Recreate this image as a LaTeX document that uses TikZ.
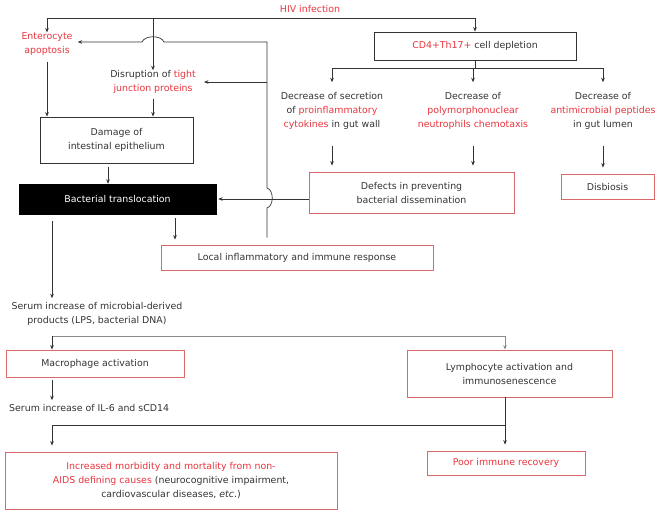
\documentclass[tikz,border=0pt]{standalone}
\usepackage{fontspec}
\setmainfont{DejaVu Sans}
\usetikzlibrary{arrows.meta,positioning,calc}
\definecolor{hivred}{HTML}{E8353E}
\definecolor{boxred}{HTML}{D96868}
\definecolor{linegray}{HTML}{333333}
\definecolor{bargray}{HTML}{8C8C8C}
\newcommand{\hl}[1]{\textcolor{hivred}{#1}}
\tikzset{
  >={Stealth[length=4.5pt,width=3.6pt]},
  font=\fontsize{9.4}{14}\selectfont,
  txt/.style={inner sep=0pt,align=center,text=linegray},
  box/.style={draw=boxred,line width=0.8pt,inner sep=0pt,align=center,text=linegray},
  plainbox/.style={draw=linegray,line width=0.8pt,inner sep=0pt,align=center,text=linegray},
  blackbox/.style={fill=black,draw=black,inner sep=0pt,align=center,text=white},
  flow/.style={->,line width=0.7pt,draw=linegray},
  link/.style={line width=0.7pt,draw=linegray},
}

\begin{document}
\begin{tikzpicture}[x=1pt,y=-1pt]
  \useasboundingbox (0,0) rectangle (661,514);

  % ===== top: HIV and gut barrier =====
  \node[txt] (hiv) at (310,9) {\hl{HIV infection}};
  \node[txt] (entero) at (47,44) {\hl{Enterocyte}\\\hl{apoptosis}};
  \node[txt] (tight) at (153,82) {Disruption of \hl{tight}\\\hl{junction proteins}};
  \node[plainbox,minimum width=153pt,minimum height=46pt] (damage) at (116.5,140)
    {Damage of\\intestinal epithelium};
  \node[blackbox,minimum width=197pt,minimum height=30pt] (bact) at (117.5,199)
    {Bacterial translocation};
  \node[plainbox,minimum width=202pt,minimum height=28pt] (cd4) at (475,46)
    {\hl{CD4+Th17+} cell depletion};
  \node[txt] (dsec) at (332,111) {Decrease of secretion\\of \hl{proinflammatory}\\\hl{cytokines} in gut wall};
  \node[txt] (dpmn) at (473,111) {Decrease of\\\hl{polymorphonuclear}\\\hl{neutrophils chemotaxis}};
  \node[txt] (damp) at (603,111) {Decrease of\\\hl{antimicrobial peptides}\\in gut lumen};
  \node[box,minimum width=205pt,minimum height=41pt] (defects) at (411.5,192.5)
    {Defects in preventing\\bacterial dissemination};
  \node[box,minimum width=93pt,minimum height=25pt] (disb) at (607.5,186.5) {Disbiosis};
  \node[box,minimum width=272pt,minimum height=25pt] (local) at (297,257.5)
    {Local inflammatory and immune response};

  % ===== bottom: systemic effects =====
  \node[txt] (serum) at (97,314) {Serum increase of microbial-derived\\products (LPS, bacterial DNA)};
  \node[box,minimum width=178pt,minimum height=27pt] (macro) at (95,363.5) {Macrophage activation};
  \node[box,minimum width=205pt,minimum height=47pt] (lympho) at (509.5,373.5)
    {Lymphocyte activation and\\immunosenescence};
  \node[txt,anchor=west] (il6) at (9,408) {Serum increase of IL-6 and sCD14};
  \node[box,minimum width=332pt,minimum height=57pt] (morb) at (171,480.5)
    {\hl{Increased morbidity and mortality from non-}\\\hl{AIDS defining causes} (neurocognitive impairment,\\cardiovascular diseases, \textit{etc}.)};
  \node[box,minimum width=158pt,minimum height=24pt] (poor) at (506,463) {\hl{Poor immune recovery}};

  % bus lines and columns
  \coordinate (hivbar) at (310,18);
  \coordinate (ebar) at (0,42);
  \coordinate (fb) at (267,0);
  \coordinate (lx) at (52,0);
  \coordinate (rx) at (505,0);
  \coordinate (mx) at (108,0);
  \coordinate (bx) at (175,0);
  \coordinate (cdbar) at (475,68);
  \coordinate (sbar) at (52,336);
  \coordinate (obar) at (505,425);

  % HIV fan-out
  \draw[link] (hivbar -| entero.north) -- (hivbar -| cd4.north);
  \foreach \n in {entero,tight,cd4}{
    \draw[flow] (hivbar -| \n.north) -- (\n.north);
  }
  \draw[flow] ([yshift=-6pt]entero.south) -- (entero.south |- damage.north);
  \draw[flow] ([yshift=-5pt]tight.south) -- (tight.south |- damage.north);
  \draw[flow,shorten <=4pt] (damage.south -| mx) -- (bact.north -| mx);

  % CD4 depletion fan-out
  \draw[link] (cd4.south) -- (cdbar);
  \draw[link] (cdbar -| dsec.north) -- (cdbar -| damp.north);
  \foreach \n in {dsec,dpmn,damp}{
    \draw[flow] (cdbar -| \n.north) -- ([yshift=10pt]\n.north);
  }
  \foreach \n/\m in {dsec/defects,dpmn/defects,damp/disb}{
    \draw[flow,shorten >=6pt] ([yshift=-16pt]\n.south) -- (\n.south |- \m.north);
  }
  \draw[flow,shorten >=2pt] (bact.east -| defects.west) -- (bact.east);

  % local response feeds back, hopping the crossings
  \draw[flow,shorten <=4pt,shorten >=5pt] (bact.south -| bx) -- (local.north -| bx);
  \draw[flow,shorten >=5pt] ([yshift=7pt]local.north -| fb) -- (267,208)
    .. controls (274,206) and (274,190) .. (267,188) -- (267,42) -- (164,42)
    .. controls (161,35) and (145,35) .. (142,42) -- (ebar -| entero.east);
  \draw[flow,shorten >=8pt] (tight.east -| fb) -- (tight.east);

  % systemic branch
  \draw[flow,shorten >=4pt] ([yshift=-7pt]bact.south -| lx) -- (serum.north -| lx);
  \draw[flow,draw=bargray] (sbar) -- (sbar -| rx) -- (lympho.north -| rx);
  \draw[flow] (sbar) -- (macro.north -| lx);
  \draw[flow,shorten >=4pt] ([yshift=-3pt]macro.south -| lx) -- (il6.north -| lx);
  \draw[link] (lympho.south -| rx) -- (obar);
  \draw[flow,shorten >=6pt] (obar) -- (poor.north -| rx);
  \draw[flow,shorten >=6pt] (obar) -- (obar -| lx) -- (morb.north -| lx);
\end{tikzpicture}
\end{document}
